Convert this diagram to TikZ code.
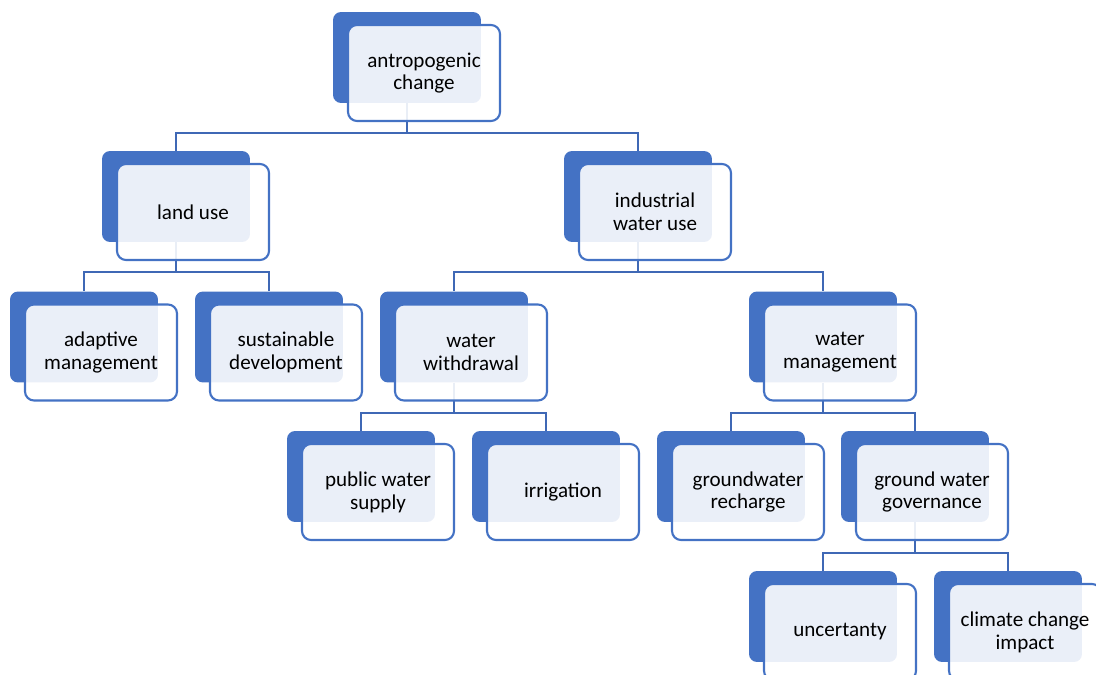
\documentclass[tikz,border=0pt]{standalone}
\usepackage{fontspec}
\setmainfont{Carlito}
\definecolor{boxblue}{HTML}{4472C4}
\definecolor{linkblue}{HTML}{3F68B5}
\tikzset{
  backbox/.style={rectangle,rounded corners=0.16cm,fill=boxblue,
    minimum width=2.96cm,minimum height=1.82cm,inner sep=0pt},
  frontbox/.style={rectangle,rounded corners=0.18cm,draw=boxblue,line width=1.2pt,
    fill=white,fill opacity=0.89,text opacity=1,text=black,align=center,
    minimum width=3.04cm,minimum height=1.92cm,inner sep=0pt,
    font=\fontsize{12}{13}\selectfont},
  link/.style={draw=linkblue,line width=1.2pt}
}

\begin{document}
\begin{tikzpicture}[x=0.02cm,y=-0.02cm]
  \useasboundingbox (0,0) rectangle (1096,675);
  \clip (0,0) rectangle (1096,675);

  % back boxes
  \node[backbox] (rootb) at (407,57.5) {};
  \node[backbox] (lub) at (176,196.5) {};
  \node[backbox] (iwb) at (638,196.5) {};
  \node[backbox] (amb) at (84,337) {};
  \node[backbox] (sdb) at (269,337) {};
  \node[backbox] (wwb) at (454,337) {};
  \node[backbox] (wmb) at (823,337) {};
  \node[backbox] (psb) at (361,476.5) {};
  \node[backbox] (irb) at (546,476.5) {};
  \node[backbox] (grb) at (731,476.5) {};
  \node[backbox] (ggb) at (915,476.5) {};
  \node[backbox] (unb) at (823,616.5) {};
  \node[backbox] (ccb) at (1008,616.5) {};

  % connectors
  \draw[link] (rootb.south) -- ++(0,30) -| (lub.north);
  \draw[link] (rootb.south) -- ++(0,30) -| (iwb.north);
  \draw[link] (lub.south) -- ++(0,30) -| (amb.north);
  \draw[link] (lub.south) -- ++(0,30) -| (sdb.north);
  \draw[link] (iwb.south) -- ++(0,30) -| (wwb.north);
  \draw[link] (iwb.south) -- ++(0,30) -| (wmb.north);
  \draw[link] (wwb.south) -- ++(0,30) -| (psb.north);
  \draw[link] (wwb.south) -- ++(0,30) -| (irb.north);
  \draw[link] (wmb.south) -- ++(0,30) -| (grb.north);
  \draw[link] (wmb.south) -- ++(0,30) -| (ggb.north);
  \draw[link] (ggb.south) -- ++(0,31) -| (unb.north);
  \draw[link] (ggb.south) -- ++(0,31) -| (ccb.north);

  % front boxes
  \node[frontbox] (root) at ([shift={(17,15.5)}]rootb.center) {antropogenic\\change};
  \node[frontbox] (lu) at ([shift={(17,15.5)}]lub.center) {land use};
  \node[frontbox] (iw) at ([shift={(17,15.5)}]iwb.center) {industrial\\water use};
  \node[frontbox] (am) at ([shift={(17,15.5)}]amb.center) {adaptive\\management};
  \node[frontbox] (sd) at ([shift={(17,15.5)}]sdb.center) {sustainable\\development};
  \node[frontbox] (ww) at ([shift={(17,15.5)}]wwb.center) {water\\withdrawal};
  \node[frontbox] (wm) at ([shift={(17,15.5)}]wmb.center) {water\\management};
  \node[frontbox] (ps) at ([shift={(17,15.5)}]psb.center) {public water\\supply};
  \node[frontbox] (ir) at ([shift={(17,15.5)}]irb.center) {irrigation};
  \node[frontbox] (gr) at ([shift={(17,15.5)}]grb.center) {groundwater\\recharge};
  \node[frontbox] (gg) at ([shift={(17,15.5)}]ggb.center) {ground water\\governance};
  \node[frontbox] (un) at ([shift={(17,15.5)}]unb.center) {uncertanty};
  \node[frontbox] (cc) at ([shift={(17,15.5)}]ccb.center) {climate change\\impact};
\end{tikzpicture}
\end{document}
